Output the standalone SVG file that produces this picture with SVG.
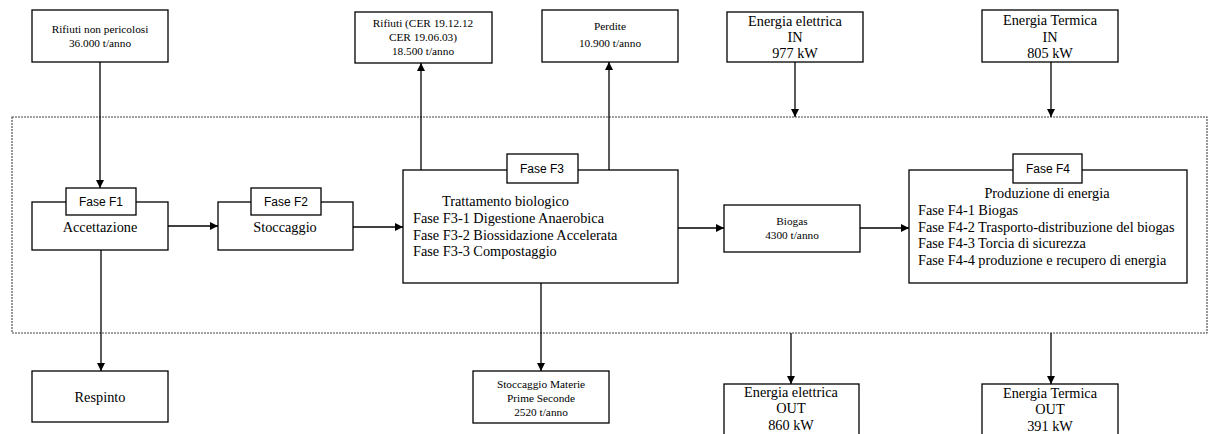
<svg xmlns="http://www.w3.org/2000/svg" width="1209" height="434" viewBox="0 0 1209 434">
<defs>
<marker id="ah" viewBox="0 0 10 10" refX="10" refY="5" markerWidth="8" markerHeight="8" markerUnits="userSpaceOnUse" orient="auto">
<path d="M0,0 L10,5 L0,10 z" fill="#000"/>
</marker>
<style>
.b{fill:#fff;stroke:#000;stroke-width:1.3}
.c{stroke:#000;stroke-width:1.3;fill:none}
.a{stroke:#000;stroke-width:1.3;fill:none;marker-end:url(#ah)}
.s{font-family:"Liberation Serif","Times New Roman",serif;fill:#000}
.f{font-family:"Liberation Sans",Arial,sans-serif;font-size:12px;fill:#000;text-anchor:middle}
.m{text-anchor:middle}
</style>
</defs>
<rect width="1209" height="434" fill="#fff"/>
<rect x="12" y="117" width="1195" height="216" fill="none" stroke="#444" stroke-width="1.1" stroke-dasharray="2,1"/>
<g id="connectors">
<line class="a" x1="100" y1="62" x2="100" y2="188"/>
<line class="a" x1="101" y1="250" x2="101" y2="371"/>
<line class="a" x1="168" y1="226" x2="218" y2="226"/>
<line class="a" x1="353" y1="227" x2="403" y2="227"/>
<line class="a" x1="421" y1="170" x2="421" y2="63"/>
<line class="a" x1="609" y1="170" x2="609" y2="62"/>
<line class="a" x1="541" y1="283" x2="541" y2="371"/>
<line class="a" x1="678" y1="228" x2="724" y2="228"/>
<line class="a" x1="860" y1="228" x2="909" y2="228"/>
<line class="a" x1="795" y1="62" x2="795" y2="117"/>
<line class="a" x1="1051" y1="62" x2="1051" y2="117"/>
<line class="a" x1="791" y1="333" x2="791" y2="384"/>
<line class="a" x1="1051" y1="333" x2="1051" y2="384"/>
</g>
<g id="rifiuti_in">
<rect class="b" x="32" y="10" width="136" height="52"/>
<text class="s m" font-size="11.3" x="100" y="33">Rifiuti non pericolosi</text>
<text class="s m" font-size="11.3" x="100" y="47">36.000 t/anno</text>
</g>
<g id="rifiuti_cer">
<rect class="b" x="355" y="12" width="137" height="51"/>
<text class="s m" font-size="11.3" x="423" y="27">Rifiuti (CER 19.12.12</text>
<text class="s m" font-size="11.3" x="423" y="41">CER 19.06.03)</text>
<text class="s m" font-size="11.3" x="423" y="55">18.500 t/anno</text>
</g>
<g id="perdite">
<rect class="b" x="542" y="10" width="136" height="52"/>
<text class="s m" font-size="11.3" x="610" y="30">Perdite</text>
<text class="s m" font-size="11.3" x="610" y="47">10.900 t/anno</text>
</g>
<g id="ee_in">
<rect class="b" x="727" y="12" width="136" height="50"/>
<text class="s m" font-size="14.3" x="795" y="26">Energia elettrica</text>
<text class="s m" font-size="14.3" x="795" y="42">IN</text>
<text class="s m" font-size="14.3" x="795" y="58">977 kW</text>
</g>
<g id="et_in">
<rect class="b" x="982" y="10" width="136" height="52"/>
<text class="s m" font-size="14.3" x="1050" y="25">Energia Termica</text>
<text class="s m" font-size="14.3" x="1050" y="42">IN</text>
<text class="s m" font-size="14.3" x="1050" y="58">805 kW</text>
</g>
<g id="f1">
<rect class="b" x="32" y="202" width="136" height="48"/>
<rect class="b" x="66" y="188" width="70" height="27"/>
<text class="f" x="101" y="206">Fase F1</text>
<text class="s m" font-size="14.3" x="100" y="232">Accettazione</text>
</g>
<g id="f2">
<rect class="b" x="218" y="202" width="135" height="48"/>
<rect class="b" x="251" y="188" width="70" height="27"/>
<text class="f" x="286" y="206">Fase F2</text>
<text class="s m" font-size="14.3" x="285" y="232">Stoccaggio</text>
</g>
<g id="f3">
<rect class="b" x="403" y="170" width="275" height="113"/>
<rect class="b" x="507" y="154" width="71" height="29"/>
<text class="f" x="542" y="173">Fase F3</text>
<text class="s" font-size="14.3" x="442" y="206">Trattamento biologico</text>
<text class="s" font-size="14.3" x="413" y="223">Fase F3-1 Digestione Anaerobica</text>
<text class="s" font-size="14.3" x="413" y="240">Fase F3-2 Biossidazione Accelerata</text>
<text class="s" font-size="14.3" x="413" y="256">Fase F3-3 Compostaggio</text>
</g>
<g id="biogas">
<rect class="b" x="724" y="205" width="136" height="47"/>
<text class="s m" font-size="11.3" x="792" y="225">Biogas</text>
<text class="s m" font-size="11.3" x="792" y="239">4300 t/anno</text>
</g>
<g id="f4">
<rect class="b" x="909" y="170" width="278" height="113"/>
<rect class="b" x="1013" y="154" width="69" height="29"/>
<text class="f" x="1048" y="173">Fase F4</text>
<text class="s m" font-size="14.3" x="1047" y="198">Produzione di energia</text>
<text class="s" font-size="14.3" x="918" y="215">Fase F4-1 Biogas</text>
<text class="s" font-size="14.3" x="918" y="232">Fase F4-2 Trasporto-distribuzione del biogas</text>
<text class="s" font-size="14.3" x="918" y="248">Fase F4-3 Torcia di sicurezza</text>
<text class="s" font-size="14.3" x="918" y="265">Fase F4-4 produzione e recupero di energia</text>
</g>
<g id="respinto">
<rect class="b" x="32" y="371" width="136" height="51"/>
<text class="s m" font-size="14.3" x="100" y="402">Respinto</text>
</g>
<g id="mps">
<rect class="b" x="473" y="371" width="136" height="52"/>
<text class="s m" font-size="11.3" x="541" y="388">Stoccaggio Materie</text>
<text class="s m" font-size="11.3" x="541" y="402">Prime Seconde</text>
<text class="s m" font-size="11.3" x="541" y="416">2520 t/anno</text>
</g>
<g id="ee_out">
<rect class="b" x="724" y="384" width="135" height="60"/>
<text class="s m" font-size="14.3" x="791" y="397">Energia elettrica</text>
<text class="s m" font-size="14.3" x="791" y="413">OUT</text>
<text class="s m" font-size="14.3" x="791" y="430">860 kW</text>
</g>
<g id="et_out">
<rect class="b" x="982" y="384" width="136" height="60"/>
<text class="s m" font-size="14.3" x="1050" y="398">Energia Termica</text>
<text class="s m" font-size="14.3" x="1050" y="414">OUT</text>
<text class="s m" font-size="14.3" x="1050" y="431">391 kW</text>
</g>
</svg>
